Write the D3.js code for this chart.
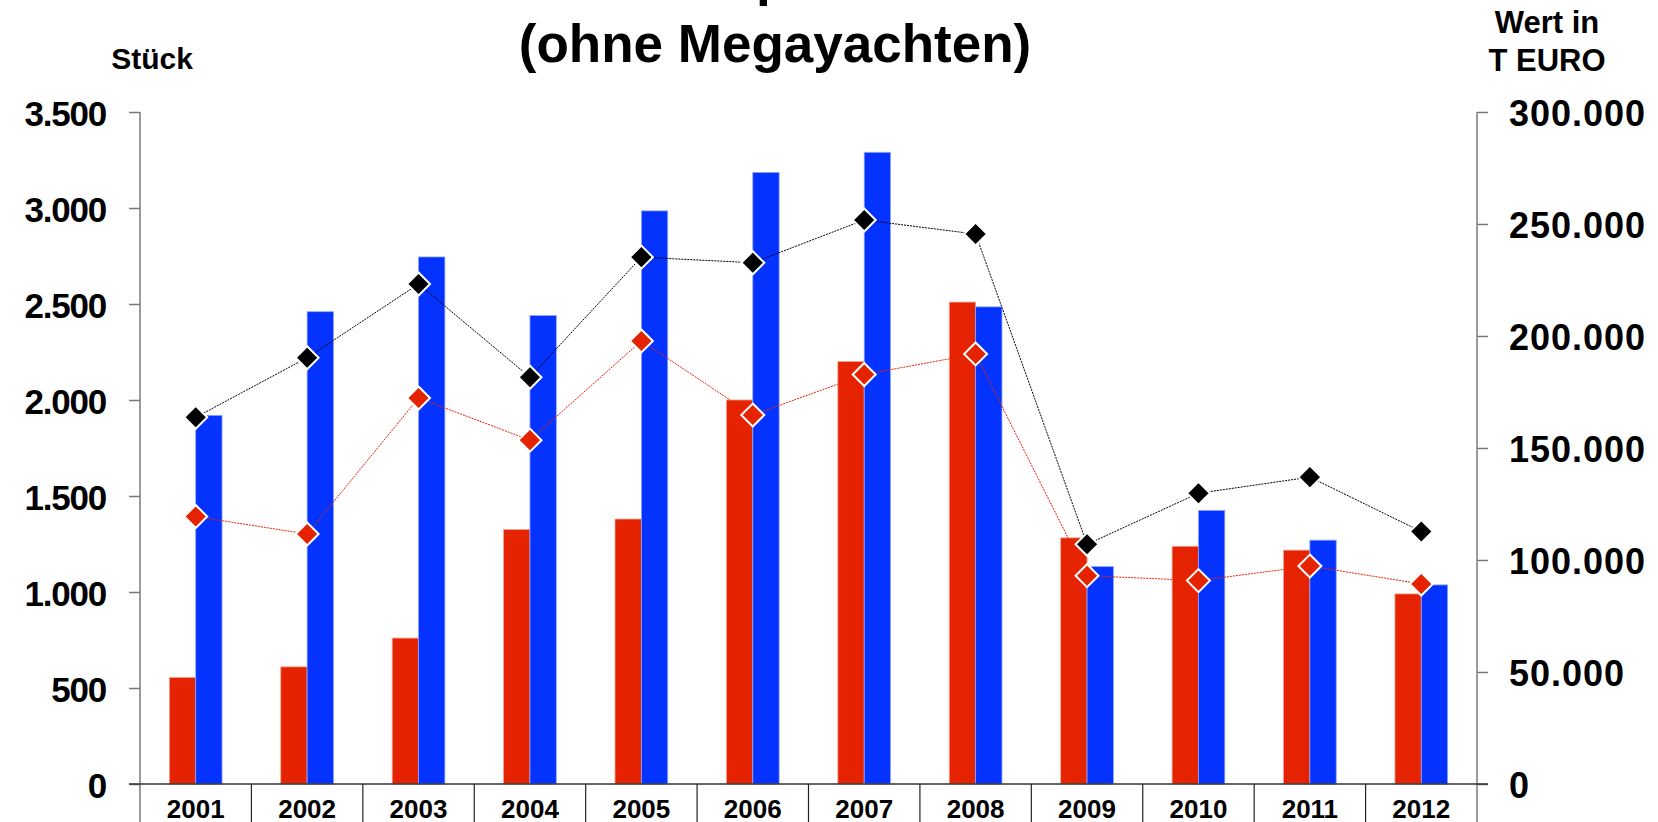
<!DOCTYPE html>
<html>
<head>
<meta charset="utf-8">
<script src="https://cdn.jsdelivr.net/npm/d3@7"></script>
<style>
  body { margin: 0; background: #fff; }
  svg { display: block; font-family: "Liberation Sans", Arial, sans-serif; font-weight: bold; }
</style>
</head>
<body>
<svg id="chart" width="1658" height="822"></svg>
<script>
// values
const years = ['2001', '2002', '2003', '2004', '2005', '2006', '2007', '2008', '2009', '2010', '2011', '2012']
const stueck_red = [555, 610, 760, 1325, 1380, 2000, 2200, 2510, 1282, 1238, 1218, 990]
const stueck_blue = [1920, 2460, 2745, 2440, 2985, 3185, 3290, 2485, 1132, 1425, 1270, 1037]
const wert_black = [163700, 190300, 223200, 181600, 235200, 232700, 251800, 245500, 107000, 129800, 137000, 112700]
const wert_red = [119400, 111600, 172300, 153500, 197800, 164700, 182800, 192000, 93000, 90800, 97300, 89300]
const left_ticks = [0, 500, 1000, 1500, 2000, 2500, 3000, 3500]
const right_ticks = [0, 50000, 100000, 150000, 200000, 250000, 300000]

const RED = '#e52300'
const BLUE = '#0433ff'

const svg = d3.select('#chart')
const plot_left = 140, plot_right = 1477, plot_top = 112, plot_base = 784

const de = d3.formatLocale({ decimal: ',', thousands: '.', grouping: [3], currency: ['', ' €'] })
const fmt = de.format(',d')

const x = d3.scaleBand().domain(years).range([plot_left, plot_right]).padding(0)
const y = d3.scaleLinear().domain([0, 3500]).range([plot_base, plot_top])
const y2 = d3.scaleLinear().domain([0, 300000]).range([plot_base, plot_top])
const bw = x.bandwidth()
const barW = bw * 0.2365

// titles (first line sits mostly above the top edge)
svg.append('text').attr('x', 775).attr('y', -5).attr('text-anchor', 'middle')
  .attr('font-size', 53).text('Export')
svg.append('text').attr('x', 775).attr('y', 62).attr('text-anchor', 'middle')
  .attr('font-size', 53).text('(ohne Megayachten)')
svg.append('text').attr('x', 152).attr('y', 69).attr('text-anchor', 'middle')
  .attr('font-size', 30).text('Stück')
svg.append('text').attr('x', 1547).attr('y', 33).attr('text-anchor', 'middle')
  .attr('font-size', 31).text('Wert in')
svg.append('text').attr('x', 1547).attr('y', 71).attr('text-anchor', 'middle')
  .attr('font-size', 31).text('T EURO')

// bars
const bars = svg.append('g')
bars.selectAll('.red-bar')
  .data(years)
  .enter()
    .append('rect')
    .attr('class', 'red-bar')
    .attr('x', d => x(d) + bw / 2 - barW)
    .attr('y', (d, i) => y(stueck_red[i]))
    .attr('width', barW)
    .attr('height', (d, i) => plot_base - y(stueck_red[i]))
    .attr('fill', RED)
    .attr('stroke', '#f4a090')
    .attr('stroke-width', 0.8)
bars.selectAll('.blue-bar')
  .data(years)
  .enter()
    .append('rect')
    .attr('class', 'blue-bar')
    .attr('x', d => x(d) + bw / 2)
    .attr('y', (d, i) => y(stueck_blue[i]))
    .attr('width', barW)
    .attr('height', (d, i) => plot_base - y(stueck_blue[i]))
    .attr('fill', BLUE)
    .attr('stroke', '#8fa4ff')
    .attr('stroke-width', 0.8)

// axes
const axisL = svg.append('g')
  .attr('transform', `translate(${plot_left},0)`)
  .call(d3.axisLeft(y).tickValues(left_ticks).tickFormat(fmt).tickSizeInner(11).tickSizeOuter(0).tickPadding(23))
const axisR = svg.append('g')
  .attr('transform', `translate(${plot_right},0)`)
  .call(d3.axisRight(y2).tickValues(right_ticks).tickFormat(fmt).tickSizeInner(11).tickSizeOuter(0).tickPadding(21))
for (const a of [axisL, axisR]) {
  a.select('.domain').remove()
  a.selectAll('.tick line').attr('stroke', '#7a7a7a').attr('stroke-width', 1.5)
  a.selectAll('.tick text')
    .attr('font-weight', 'bold')
    .attr('font-family', '"Liberation Sans", Arial, sans-serif')
    .attr('fill', '#000')
    .attr('dy', '0.38em')
}
axisL.selectAll('.tick text').attr('font-size', 35).attr('letter-spacing', '-1.2px')
axisR.selectAll('.tick text').attr('font-size', 36).attr('letter-spacing', '1px')

svg.append('line').attr('x1', plot_left).attr('x2', plot_left).attr('y1', plot_top).attr('y2', 822)
  .attr('stroke', '#7a7a7a').attr('stroke-width', 1.5)
svg.append('line').attr('x1', plot_right).attr('x2', plot_right).attr('y1', plot_top).attr('y2', 822)
  .attr('stroke', '#7a7a7a').attr('stroke-width', 1.5)
svg.append('line').attr('x1', plot_left - 11).attr('x2', plot_right + 11).attr('y1', plot_base).attr('y2', plot_base)
  .attr('stroke', '#333').attr('stroke-width', 1.5)

// category boxes
svg.selectAll('.sep')
  .data(years.slice(1))
  .enter()
    .append('line')
    .attr('class', 'sep')
    .attr('x1', d => x(d)).attr('x2', d => x(d))
    .attr('y1', plot_base).attr('y2', 822)
    .attr('stroke', '#222').attr('stroke-width', 1.2)
svg.selectAll('.year')
  .data(years)
  .enter()
    .append('text')
    .attr('class', 'year')
    .attr('x', d => x(d) + bw / 2)
    .attr('y', 818)
    .attr('text-anchor', 'middle')
    .attr('font-size', 26)
    .text(d => d)

// lines with diamond markers
function diamond(cx, cy, r) {
  return `M${cx},${cy - r}L${cx + r},${cy}L${cx},${cy + r}L${cx - r},${cy}Z`
}

function draw_series(values, color, dash) {
  const g = svg.append('g')
  const line = d3.line()
    .x((d, i) => x(years[i]) + bw / 2)
    .y(d => y2(d))
  g.append('path')
    .attr('d', line(values))
    .attr('fill', 'none')
    .attr('stroke', color)
    .attr('stroke-width', 1)
    .attr('stroke-dasharray', dash)
  g.selectAll('.mk')
    .data(values)
    .enter()
      .append('path')
      .attr('class', 'mk')
      .attr('d', (d, i) => diamond(x(years[i]) + bw / 2, y2(d), 11.5))
      .attr('fill', color)
      .attr('stroke', '#fff')
      .attr('stroke-width', 2)
}

draw_series(wert_black, '#000', '2,1')
draw_series(wert_red, RED, '2,1')
</script>
</body>
</html>
